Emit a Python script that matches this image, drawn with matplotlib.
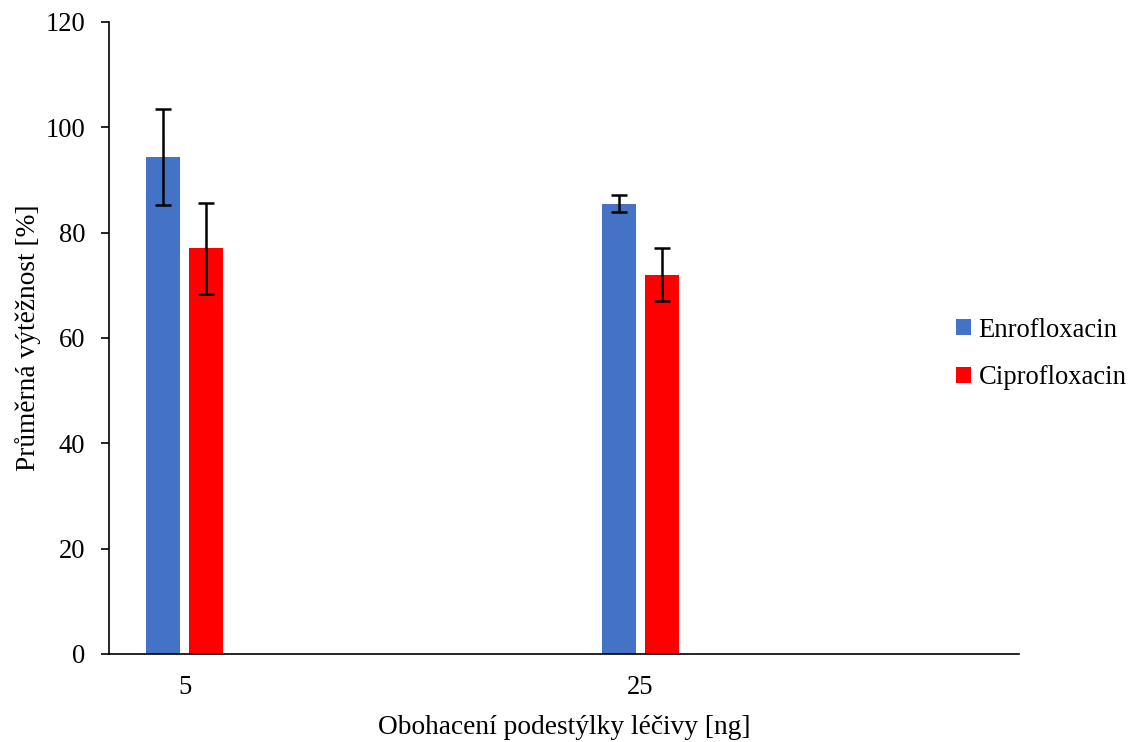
import numpy as np
import matplotlib
matplotlib.use('Agg')
import matplotlib.pyplot as plt

# data
categories = ['5', '25']
enro = [94.3, 85.5]
enro_err = [9.1, 1.6]
cipro = [77.0, 72.0]
cipro_err = [8.7, 5.0]
series_names = ['Enrofloxacin', 'Ciprofloxacin']
colors = ['#4472C4', '#FF0000']

plt.rcParams['font.family'] = ['Liberation Serif', 'DejaVu Serif']
fs = 19.2

fig = plt.figure(figsize=(11.3, 7.42), dpi=100)
ax = fig.add_axes([0.0962, 0.1186, 0.8056, 0.8518])

x = np.arange(len(categories))
w = 0.0752
off = 0.0472
err_kw = dict(ecolor='black', elinewidth=1.8, capsize=6, capthick=1.8)
ax.bar(x - off, enro, w, color=colors[0], yerr=enro_err, error_kw=err_kw,
       label=series_names[0], zorder=2)
ax.bar(x + off, cipro, w, color=colors[1], yerr=cipro_err, error_kw=err_kw,
       label=series_names[1], zorder=2)

ax.set_xlim(-0.1667, 1.831)
ax.set_ylim(0, 120)
ax.set_yticks(np.arange(0, 121, 20))
ax.set_xticks(x)
ax.set_xticklabels(categories)

for s in ['top', 'right']:
    ax.spines[s].set_visible(False)
for s in ['left', 'bottom']:
    ax.spines[s].set_linewidth(1.2)
    ax.spines[s].set_color('black')

ax.tick_params(axis='x', length=0, pad=15, labelsize=fs)
ax.tick_params(axis='y', direction='out', length=6, width=1.2, pad=11, labelsize=fs)

ax.set_xlabel('Obohacení podestýlky léčivy [ng]', fontsize=19.7, labelpad=11)
ax.set_ylabel('Průměrná výtěžnost [%]', fontsize=19.7, labelpad=3)

ax.legend(loc='center left', bbox_to_anchor=(0.846, 0.523),
          bbox_transform=fig.transFigure, frameon=False, fontsize=fs,
          handlelength=0.55, handleheight=0.55, handletextpad=0.3,
          labelspacing=0.85, borderpad=0, borderaxespad=0)

fig.savefig('out.png', dpi=100)
